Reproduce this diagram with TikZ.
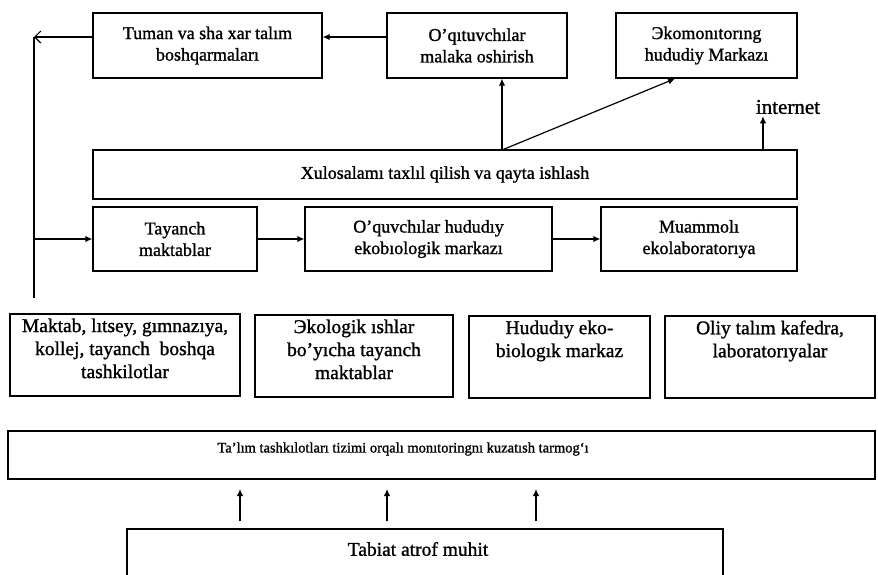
\documentclass[tikz,border=0pt]{standalone}
\usepackage{fontspec}
\setmainfont{Liberation Serif}[FakeBold=1.2]
\usetikzlibrary{arrows.meta,calc}
\begin{document}
\begin{tikzpicture}[x=1pt,y=-1pt,
  box/.style={draw,line width=1.3pt,inner sep=0pt,align=center,
    font=\fontsize{18}{21.5}\selectfont},
  txt/.style={inner sep=0pt,align=center,font=\fontsize{19.5}{23}\selectfont},
  conn/.style={line width=1.2pt},
  arr/.style={conn,-{Latex[length=7pt,width=6.5pt]}},
  openarr/.style={conn,-{Straight Barb[length=6pt,width=12pt,line width=1.2pt]}}]
\useasboundingbox (0,0) rectangle (878,574);
% top row
\node[box,minimum width=229pt,minimum height=65pt] (tuman) at (207.5,45.5) {Tuman va sha xar talım\\boshqarmaları};
\node[box,minimum width=180pt,minimum height=65pt] (oqit) at (477,45.5) {O’qıtuvchılar\\malaka oshirish};
\node[box,minimum width=181pt,minimum height=65pt] (ekomon) at (706.5,45.5) {Эkomonıtorıng\\hududiy Markazı};
\node[inner sep=2pt,font=\fontsize{21}{23}\selectfont] (internet) at (788,107) {internet};
% xulosa
\node[box,minimum width=704pt,minimum height=49pt] (xulosa) at (445,174.5) {Xulosalamı taxlıl qilish va qayta ishlash};
% middle row
\node[box,minimum width=164pt,minimum height=64pt] (tayanch) at (175,239) {Tayanch\\maktablar};
\node[box,minimum width=247pt,minimum height=64pt] (oquv) at (428.5,239) {O’quvchılar hududıy\\ekobıologik markazı};
\node[box,minimum width=196pt,minimum height=64pt] (muamm) at (699,239) {Muammolı\\ekolaboratorıya};
% second row
\node[box,minimum width=230pt,minimum height=82pt] (maktab) at (125,355) {};
\node[box,minimum width=198pt,minimum height=82pt] (ekolog) at (354,356) {};
\node[box,minimum width=181pt,minimum height=82pt] (hudud) at (559.5,357) {};
\node[box,minimum width=210pt,minimum height=82pt] (oliy) at (770,357) {};
\node[txt,anchor=north] (maktabt) at ([yshift=-5pt]maktab.north) {Maktab, lıtsey, gımnazıya,\\kollej, tayanch\ \ boshqa\\tashkilotlar};
\node[txt,anchor=north] (ekologt) at ([yshift=-5pt]ekolog.north) {Эkologik ıshlar\\bo’yıcha tayanch\\maktablar};
\node[txt,anchor=north] (hududt) at ([yshift=-5pt]hudud.north) {Hududıy eko-\\biologık markaz};
\node[txt,anchor=north] (oliyt) at ([yshift=-5pt]oliy.north) {Oliy talım kafedra,\\laboratorıyalar};
% talim
\node[draw,line width=1.3pt,minimum width=867pt,minimum height=48pt,inner sep=0pt] (talim) at (441.5,455) {};
\node[inner sep=0pt,font=\fontsize{14.5}{17}\selectfont] (talimt) at (403,449) {Ta’lım tashkılotları tizimi orqalı monıtoringnı kuzatısh tarmog‘ı};
% tabiat
\draw[line width=1.3pt] (127,576) -- (127,529) -- (723,529) -- (723,576);
\node[inner sep=0pt,font=\fontsize{19.5}{22}\selectfont] (tabiat) at (418,549) {Tabiat atrof muhit};
% coordinates
\coordinate (topL) at (34,37);
\coordinate (botL) at (34,298);
\coordinate (midL) at (34,239);
\coordinate (J) at (502,150);
\coordinate (ib) at (763,150);
\coordinate (a1s) at (240,521); \coordinate (a1e) at (240,489);
\coordinate (a2s) at (387,521); \coordinate (a2e) at (387,489);
\coordinate (a3s) at (536,521); \coordinate (a3e) at (536,489);
% connectors
\draw[arr] ([yshift=8.5pt]oqit.west) -- ([yshift=8.5pt]tuman.east);
\draw[openarr] ([yshift=8.5pt]tuman.west) -- (topL);
\draw[conn] (topL) -- (botL);
\draw[arr] (midL) -- (tayanch.west);
\draw[arr] (tayanch.east) -- (oquv.west);
\draw[arr] (oquv.east) -- (muamm.west);
\draw[arr] (J) -- (J |- oqit.south);
\draw[arr] (J) -- ([xshift=-31.5pt]ekomon.south);
\draw[arr] (ib) -- (ib |- internet.south);
\draw[arr] (a1s) -- (a1e);
\draw[arr] (a2s) -- (a2e);
\draw[arr] (a3s) -- (a3e);
\end{tikzpicture}
\end{document}
